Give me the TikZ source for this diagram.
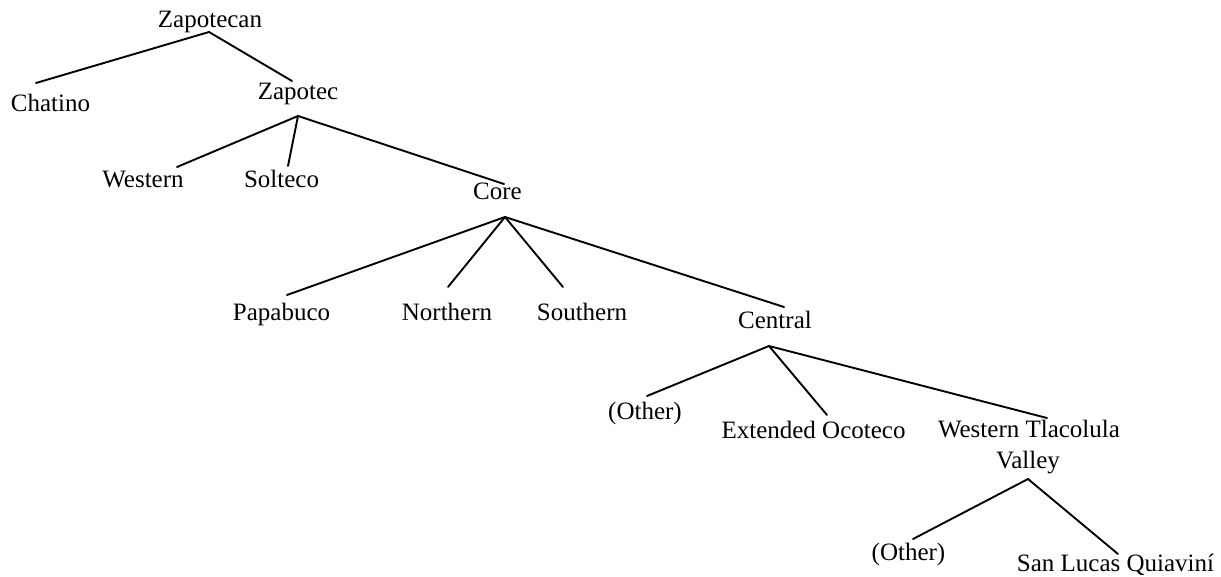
\documentclass[tikz,border=0pt]{standalone}
\usepackage{fontspec}
\setmainfont{Liberation Serif}
\begin{document}
\begin{tikzpicture}[x=1pt,y=-1pt,
  lab/.style={anchor=base,inner sep=0pt,font=\fontsize{25}{30}\selectfont},
  edge/.style={line width=1.9pt,line cap=round}]
\useasboundingbox (0,0) rectangle (1221,577);
% nodes
\node[lab] (zapotecan) at (210,28) {Zapotecan};
\node[lab] (chatino) at (50.5,112) {Chatino};
\node[lab] (zapotec) at (298,100) {Zapotec};
\node[lab] (western) at (143,188) {Western};
\node[lab] (solteco) at (281.5,188) {Solteco};
\node[lab] (core) at (497.5,200) {Core};
\node[lab] (papabuco) at (281.5,320) {Papabuco};
\node[lab] (northern) at (447,320) {Northern};
\node[lab] (southern) at (582,320) {Southern};
\node[lab] (central) at (775,329) {Central};
\node[lab] (other1) at (645,419) {(Other)};
\node[lab] (extoco) at (813.5,438) {Extended Ocoteco};
\node[lab] (wtv) at (1029,437) {Western Tlacolula};
\node[lab] (valley) at (1028,468) {Valley};
\node[lab] (other2) at (908.5,560) {(Other)};
\node[lab] (slq) at (1115.5,571) {San Lucas Quiaviní};
% connector points
\coordinate (a1) at (209,32);
\coordinate (e-chatino) at (36,83);
\coordinate (e-zapotec) at (292,81);
\coordinate (a2) at (298,116);
\coordinate (e-western) at (177,167);
\coordinate (e-solteco) at (288,166);
\coordinate (e-core) at (504,184);
\coordinate (a3) at (505,217);
\coordinate (e-papabuco) at (287,295);
\coordinate (e-northern) at (448,287);
\coordinate (e-southern) at (563,287);
\coordinate (e-central) at (784,307);
\coordinate (a4) at (769,346);
\coordinate (e-other1) at (647,396);
\coordinate (e-extoco) at (827,415);
\coordinate (e-wtv) at (1047,418);
\coordinate (a5) at (1028,479);
\coordinate (e-other2) at (913,539);
\coordinate (e-slq) at (1118,554);
% connectors
\draw[edge] (e-chatino) -- (a1) -- (e-zapotec);
\draw[edge] (e-western) -- (a2) -- (e-core);
\draw[edge] (a2) -- (e-solteco);
\draw[edge] (e-papabuco) -- (a3) -- (e-central);
\draw[edge] (a3) -- (e-northern);
\draw[edge] (a3) -- (e-southern);
\draw[edge] (e-other1) -- (a4) -- (e-wtv);
\draw[edge] (a4) -- (e-extoco);
\draw[edge] (e-other2) -- (a5) -- (e-slq);
\end{tikzpicture}
\end{document}
